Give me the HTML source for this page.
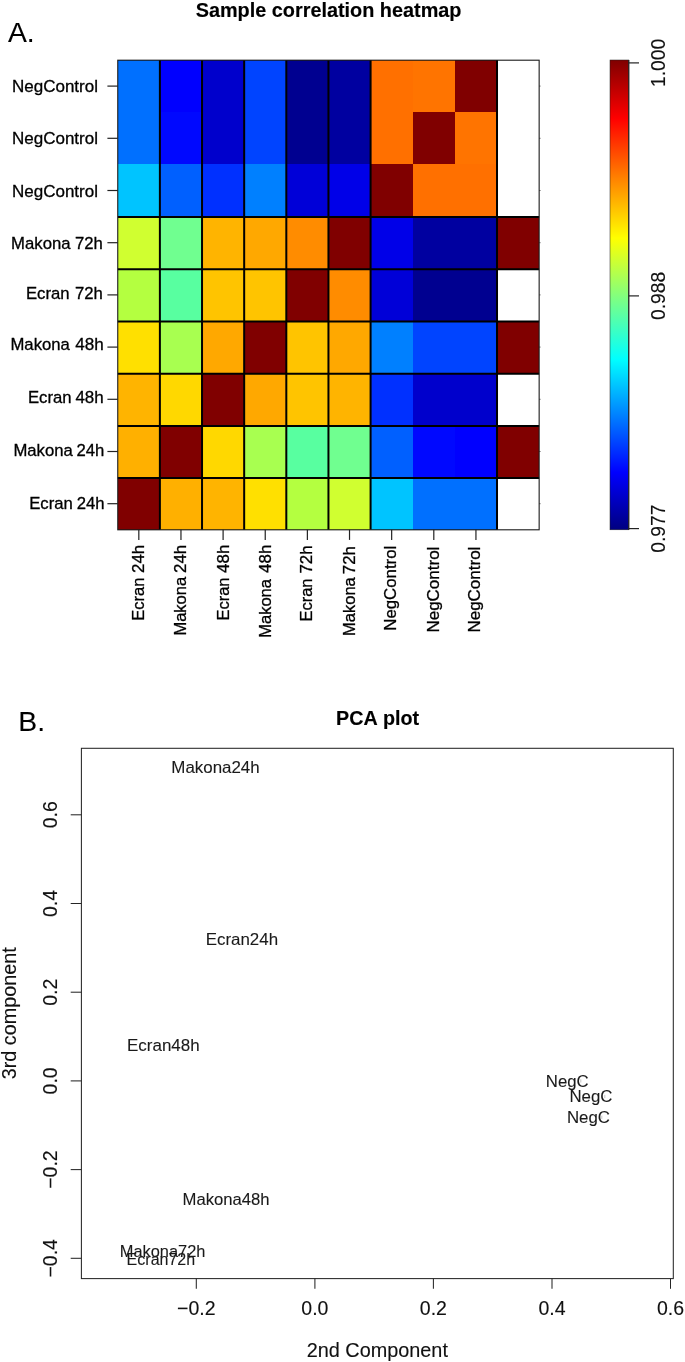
<!DOCTYPE html>
<html lang="en"><head><meta charset="utf-8"><title>Sample correlation heatmap and PCA plot</title>
<style>html,body{margin:0;padding:0;background:#fff}body{width:685px;height:1362px;overflow:hidden}svg{display:block}text{font-family:"Liberation Sans",Arial,Helvetica,sans-serif;fill:#000;stroke:#000;stroke-width:0.3px;font-kerning:none}.b{font-weight:bold;stroke-width:0.15px}.h{stroke-width:0.1px}.p{stroke-width:0.1px;fill:#1a1a1a;stroke:#1a1a1a}.q{stroke-width:0.12px;fill:#111;stroke:#111}.bx{stroke:#262626;stroke-width:1.05;fill:none}.ln{stroke:#222;stroke-width:1.2;fill:none}.g{stroke:#000;stroke-width:2;fill:none}.o{stroke:#1a1a1a;stroke-width:1.1;fill:none}</style></head><body>
<svg width="685" height="1362" viewBox="0 0 685 1362">
<defs><linearGradient id="jet" x1="0" y1="0" x2="0" y2="1">
<stop offset="0" stop-color="#800000"/>
<stop offset="0.125" stop-color="#FF0000"/>
<stop offset="0.25" stop-color="#FF8000"/>
<stop offset="0.379" stop-color="#FFFF00"/>
<stop offset="0.505" stop-color="#80FF80"/>
<stop offset="0.637" stop-color="#00FFFF"/>
<stop offset="0.757" stop-color="#0080FF"/>
<stop offset="0.878" stop-color="#0000FF"/>
<stop offset="1" stop-color="#000080"/>
</linearGradient></defs>
<rect width="685" height="1362" fill="#fff"/>
<text class="h" x="8" y="41.8" font-size="28.3">A.</text>
<text class="b" x="328.6" y="16.5" font-size="19.85" text-anchor="middle">Sample correlation heatmap</text>
<g shape-rendering="crispEdges">
<rect x="117.75" y="60.00" width="42.44" height="52.50" fill="#0070FF"/>
<rect x="159.89" y="60.00" width="42.44" height="52.50" fill="#0000FF"/>
<rect x="202.03" y="60.00" width="42.44" height="52.50" fill="#0000CC"/>
<rect x="244.17" y="60.00" width="42.44" height="52.50" fill="#0044FF"/>
<rect x="286.31" y="60.00" width="42.44" height="52.50" fill="#000090"/>
<rect x="328.45" y="60.00" width="42.44" height="52.50" fill="#0000A0"/>
<rect x="370.59" y="60.00" width="42.44" height="52.50" fill="#FF7000"/>
<rect x="412.73" y="60.00" width="42.44" height="52.50" fill="#FF7400"/>
<rect x="454.87" y="60.00" width="42.44" height="52.50" fill="#800000"/>
<rect x="497.01" y="60.00" width="42.14" height="52.20" fill="#ffffff"/>
<rect x="117.75" y="112.20" width="42.44" height="52.50" fill="#0070FF"/>
<rect x="159.89" y="112.20" width="42.44" height="52.50" fill="#0008FF"/>
<rect x="202.03" y="112.20" width="42.44" height="52.50" fill="#0000CC"/>
<rect x="244.17" y="112.20" width="42.44" height="52.50" fill="#0044FF"/>
<rect x="286.31" y="112.20" width="42.44" height="52.50" fill="#000090"/>
<rect x="328.45" y="112.20" width="42.44" height="52.50" fill="#0000A0"/>
<rect x="370.59" y="112.20" width="42.44" height="52.50" fill="#FF7000"/>
<rect x="412.73" y="112.20" width="42.44" height="52.50" fill="#800000"/>
<rect x="454.87" y="112.20" width="42.44" height="52.50" fill="#FF7400"/>
<rect x="497.01" y="112.20" width="42.14" height="52.20" fill="#ffffff"/>
<rect x="117.75" y="164.40" width="42.44" height="52.50" fill="#00C4FF"/>
<rect x="159.89" y="164.40" width="42.44" height="52.50" fill="#0060FF"/>
<rect x="202.03" y="164.40" width="42.44" height="52.50" fill="#0030FF"/>
<rect x="244.17" y="164.40" width="42.44" height="52.50" fill="#0080FF"/>
<rect x="286.31" y="164.40" width="42.44" height="52.50" fill="#0000D8"/>
<rect x="328.45" y="164.40" width="42.44" height="52.50" fill="#0000E8"/>
<rect x="370.59" y="164.40" width="42.44" height="52.50" fill="#800000"/>
<rect x="412.73" y="164.40" width="42.44" height="52.50" fill="#FF7000"/>
<rect x="454.87" y="164.40" width="42.44" height="52.50" fill="#FF7000"/>
<rect x="497.01" y="164.40" width="42.14" height="52.20" fill="#ffffff"/>
<rect x="117.75" y="216.60" width="42.44" height="52.50" fill="#D0FF30"/>
<rect x="159.89" y="216.60" width="42.44" height="52.50" fill="#70FF90"/>
<rect x="202.03" y="216.60" width="42.44" height="52.50" fill="#FFB400"/>
<rect x="244.17" y="216.60" width="42.44" height="52.50" fill="#FFA800"/>
<rect x="286.31" y="216.60" width="42.44" height="52.50" fill="#FF8C00"/>
<rect x="328.45" y="216.60" width="42.44" height="52.50" fill="#800000"/>
<rect x="370.59" y="216.60" width="42.44" height="52.50" fill="#0000E8"/>
<rect x="412.73" y="216.60" width="42.44" height="52.50" fill="#0000A0"/>
<rect x="454.87" y="216.60" width="42.44" height="52.50" fill="#0000A0"/>
<rect x="497.01" y="216.60" width="42.14" height="52.20" fill="#800000"/>
<rect x="117.75" y="268.80" width="42.44" height="52.50" fill="#B4FF40"/>
<rect x="159.89" y="268.80" width="42.44" height="52.50" fill="#58FFA0"/>
<rect x="202.03" y="268.80" width="42.44" height="52.50" fill="#FFC400"/>
<rect x="244.17" y="268.80" width="42.44" height="52.50" fill="#FFC400"/>
<rect x="286.31" y="268.80" width="42.44" height="52.50" fill="#800000"/>
<rect x="328.45" y="268.80" width="42.44" height="52.50" fill="#FF8C00"/>
<rect x="370.59" y="268.80" width="42.44" height="52.50" fill="#0000D8"/>
<rect x="412.73" y="268.80" width="42.44" height="52.50" fill="#000090"/>
<rect x="454.87" y="268.80" width="42.44" height="52.50" fill="#000090"/>
<rect x="497.01" y="268.80" width="42.14" height="52.20" fill="#ffffff"/>
<rect x="117.75" y="321.00" width="42.44" height="52.50" fill="#FFE000"/>
<rect x="159.89" y="321.00" width="42.44" height="52.50" fill="#A8FF50"/>
<rect x="202.03" y="321.00" width="42.44" height="52.50" fill="#FFA800"/>
<rect x="244.17" y="321.00" width="42.44" height="52.50" fill="#800000"/>
<rect x="286.31" y="321.00" width="42.44" height="52.50" fill="#FFC400"/>
<rect x="328.45" y="321.00" width="42.44" height="52.50" fill="#FFA800"/>
<rect x="370.59" y="321.00" width="42.44" height="52.50" fill="#0080FF"/>
<rect x="412.73" y="321.00" width="42.44" height="52.50" fill="#0044FF"/>
<rect x="454.87" y="321.00" width="42.44" height="52.50" fill="#0044FF"/>
<rect x="497.01" y="321.00" width="42.14" height="52.20" fill="#800000"/>
<rect x="117.75" y="373.20" width="42.44" height="52.50" fill="#FFB400"/>
<rect x="159.89" y="373.20" width="42.44" height="52.50" fill="#FFD800"/>
<rect x="202.03" y="373.20" width="42.44" height="52.50" fill="#800000"/>
<rect x="244.17" y="373.20" width="42.44" height="52.50" fill="#FFA800"/>
<rect x="286.31" y="373.20" width="42.44" height="52.50" fill="#FFC400"/>
<rect x="328.45" y="373.20" width="42.44" height="52.50" fill="#FFB400"/>
<rect x="370.59" y="373.20" width="42.44" height="52.50" fill="#0030FF"/>
<rect x="412.73" y="373.20" width="42.44" height="52.50" fill="#0000CC"/>
<rect x="454.87" y="373.20" width="42.44" height="52.50" fill="#0000CC"/>
<rect x="497.01" y="373.20" width="42.14" height="52.20" fill="#ffffff"/>
<rect x="117.75" y="425.40" width="42.44" height="52.50" fill="#FFB000"/>
<rect x="159.89" y="425.40" width="42.44" height="52.50" fill="#800000"/>
<rect x="202.03" y="425.40" width="42.44" height="52.50" fill="#FFD800"/>
<rect x="244.17" y="425.40" width="42.44" height="52.50" fill="#A8FF50"/>
<rect x="286.31" y="425.40" width="42.44" height="52.50" fill="#58FFA0"/>
<rect x="328.45" y="425.40" width="42.44" height="52.50" fill="#70FF90"/>
<rect x="370.59" y="425.40" width="42.44" height="52.50" fill="#0060FF"/>
<rect x="412.73" y="425.40" width="42.44" height="52.50" fill="#0008FF"/>
<rect x="454.87" y="425.40" width="42.44" height="52.50" fill="#0000FF"/>
<rect x="497.01" y="425.40" width="42.14" height="52.20" fill="#800000"/>
<rect x="117.75" y="477.60" width="42.44" height="52.50" fill="#800000"/>
<rect x="159.89" y="477.60" width="42.44" height="52.50" fill="#FFB000"/>
<rect x="202.03" y="477.60" width="42.44" height="52.50" fill="#FFB400"/>
<rect x="244.17" y="477.60" width="42.44" height="52.50" fill="#FFE000"/>
<rect x="286.31" y="477.60" width="42.44" height="52.50" fill="#B4FF40"/>
<rect x="328.45" y="477.60" width="42.44" height="52.50" fill="#D0FF30"/>
<rect x="370.59" y="477.60" width="42.44" height="52.50" fill="#00C4FF"/>
<rect x="412.73" y="477.60" width="42.44" height="52.50" fill="#0070FF"/>
<rect x="454.87" y="477.60" width="42.44" height="52.50" fill="#0070FF"/>
<rect x="497.01" y="477.60" width="42.14" height="52.20" fill="#ffffff"/>
</g>
<line class="g" x1="159.89" y1="60.0" x2="159.89" y2="529.80"/>
<line class="g" x1="202.03" y1="60.0" x2="202.03" y2="529.80"/>
<line class="g" x1="244.17" y1="60.0" x2="244.17" y2="529.80"/>
<line class="g" x1="286.31" y1="60.0" x2="286.31" y2="529.80"/>
<line class="g" x1="328.45" y1="60.0" x2="328.45" y2="529.80"/>
<line class="g" x1="370.59" y1="60.0" x2="370.59" y2="529.80"/>
<line class="g" x1="497.01" y1="60.0" x2="497.01" y2="529.80"/>
<line class="g" x1="117.75" y1="217.10" x2="539.15" y2="217.10"/>
<line class="g" x1="117.75" y1="269.30" x2="539.15" y2="269.30"/>
<line class="g" x1="117.75" y1="321.50" x2="539.15" y2="321.50"/>
<line class="g" x1="117.75" y1="373.70" x2="539.15" y2="373.70"/>
<line class="g" x1="117.75" y1="425.90" x2="539.15" y2="425.90"/>
<line class="g" x1="117.75" y1="478.10" x2="539.15" y2="478.10"/>
<rect class="o" x="117.75" y="60.2" width="421.40" height="469.60"/>
<line class="ln" x1="107.4" y1="86.10" x2="117.75" y2="86.10"/>
<text x="12.00" y="92.44" font-size="17">NegControl</text>
<line class="ln" x1="107.4" y1="138.30" x2="117.75" y2="138.30"/>
<text x="12.00" y="144.20" font-size="17">NegControl</text>
<line class="ln" x1="107.4" y1="190.50" x2="117.75" y2="190.50"/>
<text x="12.00" y="196.70" font-size="17">NegControl</text>
<line class="ln" x1="107.4" y1="242.70" x2="117.75" y2="242.70"/>
<text y="249.19" font-size="16.7"><tspan x="11.11" font-size="16.7">Makona</tspan> <tspan x="74.96" font-size="16.7">72h</tspan></text>
<line class="ln" x1="107.4" y1="294.90" x2="117.75" y2="294.90"/>
<text y="299.30" font-size="16.7"><tspan x="25.98" font-size="16.7">Ecran</tspan> <tspan x="74.96" font-size="16.7">72h</tspan></text>
<line class="ln" x1="107.4" y1="347.10" x2="117.75" y2="347.10"/>
<text y="350.34" font-size="16.7"><tspan x="10.47" font-size="16.7">Makona</tspan> <tspan x="75.24" font-size="17.1">48h</tspan></text>
<line class="ln" x1="107.4" y1="399.30" x2="117.75" y2="399.30"/>
<text y="403.02" font-size="16.7"><tspan x="27.91" font-size="16.7">Ecran</tspan> <tspan x="75.40" font-size="17.0">48h</tspan></text>
<line class="ln" x1="107.4" y1="451.50" x2="117.75" y2="451.50"/>
<text y="456.07" font-size="16.7"><tspan x="13.40" font-size="16.7">Makona</tspan> <tspan x="76.43" font-size="16.7">24h</tspan></text>
<line class="ln" x1="107.4" y1="503.70" x2="117.75" y2="503.70"/>
<text y="508.75" font-size="16.7"><tspan x="29.19" font-size="16.7">Ecran</tspan> <tspan x="76.80" font-size="16.7">24h</tspan></text>
<line class="ln" x1="138.82" y1="529.80" x2="138.82" y2="539.9"/>
<text transform="translate(144.10,700.00) rotate(-90)" y="0" font-size="16.5"><tspan x="79.25" font-size="16.5">Ecran</tspan> <tspan x="127.00" font-size="16.9">24h</tspan></text>
<line class="ln" x1="180.96" y1="529.80" x2="180.96" y2="539.9"/>
<text transform="translate(185.90,700.00) rotate(-90)" y="0" font-size="16.5"><tspan x="64.45" font-size="16.5">Makona</tspan> <tspan x="127.00" font-size="16.9">24h</tspan></text>
<line class="ln" x1="223.10" y1="529.80" x2="223.10" y2="539.9"/>
<text transform="translate(228.90,700.00) rotate(-90)" y="0" font-size="16.5"><tspan x="79.45" font-size="16.5">Ecran</tspan> <tspan x="127.10" font-size="16.9">48h</tspan></text>
<line class="ln" x1="265.24" y1="529.80" x2="265.24" y2="539.9"/>
<text transform="translate(270.90,700.00) rotate(-90)" y="0" font-size="16.5"><tspan x="62.25" font-size="16.5">Makona</tspan> <tspan x="127.10" font-size="16.9">48h</tspan></text>
<line class="ln" x1="307.38" y1="529.80" x2="307.38" y2="539.9"/>
<text transform="translate(312.40,700.00) rotate(-90)" y="0" font-size="16.5"><tspan x="78.45" font-size="16.5">Ecran</tspan> <tspan x="126.40" font-size="16.9">72h</tspan></text>
<line class="ln" x1="349.52" y1="529.80" x2="349.52" y2="539.9"/>
<text transform="translate(354.70,700.00) rotate(-90)" y="0" font-size="16.5"><tspan x="64.05" font-size="16.5">Makona</tspan> <tspan x="125.80" font-size="16.9">72h</tspan></text>
<line class="ln" x1="391.66" y1="529.80" x2="391.66" y2="539.9"/>
<text transform="translate(396.10,700.00) rotate(-90)" x="69.32" y="0" font-size="16.8">NegControl</text>
<line class="ln" x1="433.80" y1="529.80" x2="433.80" y2="539.9"/>
<text transform="translate(438.60,700.00) rotate(-90)" x="67.41" y="0" font-size="17">NegControl</text>
<line class="ln" x1="475.94" y1="529.80" x2="475.94" y2="539.9"/>
<text transform="translate(479.90,700.00) rotate(-90)" x="67.41" y="0" font-size="17">NegControl</text>
<rect x="610" y="60.0" width="18.8" height="469.80" fill="url(#jet)"/>
<line class="ln" x1="628.8" y1="60.0" x2="628.8" y2="529.80"/>
<rect x="610" y="60.0" width="18.8" height="469.80" fill="none" stroke="#222" stroke-width="0.5"/>
<line class="ln" x1="628.8" y1="62.9" x2="639" y2="62.9"/>
<text transform="translate(665.3,62.9) rotate(-90)" class="q" font-size="19.3" text-anchor="middle">1.000</text>
<line class="ln" x1="628.8" y1="295.9" x2="639" y2="295.9"/>
<text transform="translate(665.3,295.9) rotate(-90)" class="q" font-size="19.3" text-anchor="middle">0.988</text>
<line class="ln" x1="628.8" y1="528.6" x2="639" y2="528.6"/>
<text transform="translate(665.3,528.6) rotate(-90)" class="q" font-size="19.3" text-anchor="middle">0.977</text>
<text class="h" x="18.3" y="730.8" font-size="28.3">B.</text>
<text class="b" x="377.6" y="724.7" font-size="19.7" text-anchor="middle">PCA plot</text>
<rect class="bx" x="81.4" y="748.3" width="591.9" height="530.3"/>
<line class="bx" x1="70.7" y1="814.8" x2="81.4" y2="814.8"/>
<text transform="translate(56.8,814.8) rotate(-90)" class="q" font-size="19.5" text-anchor="middle">0.6</text>
<line class="bx" x1="70.7" y1="903.5" x2="81.4" y2="903.5"/>
<text transform="translate(56.8,903.5) rotate(-90)" class="q" font-size="19.5" text-anchor="middle">0.4</text>
<line class="bx" x1="70.7" y1="992.2" x2="81.4" y2="992.2"/>
<text transform="translate(56.8,992.2) rotate(-90)" class="q" font-size="19.5" text-anchor="middle">0.2</text>
<line class="bx" x1="70.7" y1="1080.9" x2="81.4" y2="1080.9"/>
<text transform="translate(56.8,1080.9) rotate(-90)" class="q" font-size="19.5" text-anchor="middle">0.0</text>
<line class="bx" x1="70.7" y1="1169.6" x2="81.4" y2="1169.6"/>
<text transform="translate(56.8,1169.6) rotate(-90)" class="q" font-size="19.5" text-anchor="middle">−0.2</text>
<line class="bx" x1="70.7" y1="1258.3" x2="81.4" y2="1258.3"/>
<text transform="translate(56.8,1258.3) rotate(-90)" class="q" font-size="19.5" text-anchor="middle">−0.4</text>
<line class="bx" x1="196.3" y1="1278.6" x2="196.3" y2="1288.8"/>
<text class="q" x="196.3" y="1315.3" font-size="19.5" text-anchor="middle">−0.2</text>
<line class="bx" x1="314.9" y1="1278.6" x2="314.9" y2="1288.8"/>
<text class="q" x="314.9" y="1315.3" font-size="19.5" text-anchor="middle">0.0</text>
<line class="bx" x1="433.4" y1="1278.6" x2="433.4" y2="1288.8"/>
<text class="q" x="433.4" y="1315.3" font-size="19.5" text-anchor="middle">0.2</text>
<line class="bx" x1="552.0" y1="1278.6" x2="552.0" y2="1288.8"/>
<text class="q" x="552.0" y="1315.3" font-size="19.5" text-anchor="middle">0.4</text>
<line class="bx" x1="670.5" y1="1278.6" x2="670.5" y2="1288.8"/>
<text class="q" x="670.5" y="1315.3" font-size="19.5" text-anchor="middle">0.6</text>
<text class="q" transform="translate(16,1013.3) rotate(-90)" font-size="19.8" text-anchor="middle">3rd component</text>
<text class="q" x="377.3" y="1356.7" font-size="19.85" text-anchor="middle">2nd Component</text>
<text class="p" x="171.31" y="772.5" font-size="16.91">Makona24h</text>
<text class="p" x="205.71" y="944.8" font-size="16.91">Ecran24h</text>
<text class="p" x="127.01" y="1050.6" font-size="16.98">Ecran48h</text>
<text class="p" x="182.53" y="1205.3" font-size="16.68">Makona48h</text>
<text class="p" x="119.75" y="1257.0" font-size="16.40">Makona72h</text>
<text class="p" x="126.58" y="1264.6" font-size="16.04">Ecran72h</text>
<text class="p" x="545.83" y="1086.6" font-size="16.75">NegC</text>
<text class="p" x="569.42" y="1102.0" font-size="16.83">NegC</text>
<text class="p" x="566.92" y="1123.3" font-size="16.83">NegC</text>
<line x1="580.8" y1="1079.3000000000002" x2="580.8" y2="1082.5" stroke="#b5b5b5" stroke-width="0.8"/>
<line x1="604.8" y1="1094.9" x2="604.8" y2="1098.1" stroke="#b5b5b5" stroke-width="0.8"/>
<line x1="601.8" y1="1115.7" x2="601.8" y2="1118.8999999999999" stroke="#b5b5b5" stroke-width="0.8"/>
<line x1="539.15" y1="86.10" x2="540.45" y2="86.10" stroke="#333" stroke-width="0.9"/>
<line x1="539.15" y1="138.30" x2="540.45" y2="138.30" stroke="#333" stroke-width="0.9"/>
<line x1="539.15" y1="190.50" x2="540.45" y2="190.50" stroke="#333" stroke-width="0.9"/>
<line x1="539.15" y1="242.70" x2="540.45" y2="242.70" stroke="#333" stroke-width="0.9"/>
<line x1="539.15" y1="294.90" x2="540.45" y2="294.90" stroke="#333" stroke-width="0.9"/>
<line x1="539.15" y1="347.10" x2="540.45" y2="347.10" stroke="#333" stroke-width="0.9"/>
<line x1="539.15" y1="399.30" x2="540.45" y2="399.30" stroke="#333" stroke-width="0.9"/>
<line x1="539.15" y1="451.50" x2="540.45" y2="451.50" stroke="#333" stroke-width="0.9"/>
<line x1="539.15" y1="503.70" x2="540.45" y2="503.70" stroke="#333" stroke-width="0.9"/>
</svg></body></html>
